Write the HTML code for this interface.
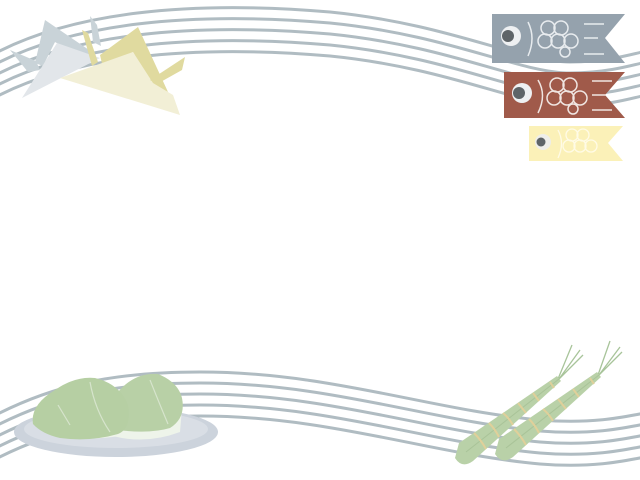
<!DOCTYPE html>
<html><head><meta charset="utf-8"><style>html,body{margin:0;padding:0;background:#fff}svg{display:block}</style></head>
<body>
<svg width="640" height="480" viewBox="0 0 640 480" xmlns="http://www.w3.org/2000/svg">
<defs>
<path id="tw" d="M-10,56 C70,12 190,0 330,12 C450,24 520,62 570,62 C605,62 630,55 650,50" fill="none" stroke="#b0bcc2" stroke-width="3"/>
<path id="bw" d="M-10,418 C50,386 110,372 200,372 C330,372 430,410 540,420 C590,424 620,418 650,412" fill="none" stroke="#b0bcc2" stroke-width="3"/>
<g id="chim">
<path d="M459,443 L557,376 L561,381 L473,461 Q462,469 455,458 Z" fill="#b9d1a8"/>
<path d="M466,452 L559,379" stroke="#a9c398" stroke-width="1" fill="none"/>
<g stroke="#e0d09a" stroke-width="2" fill="none"><path d="M474,433 Q481,440 486,449M489,423 Q495,429 499,437M503,413 Q509,418 513,425M518,403 Q522,408 526,413M533,393 Q536,397 539,401M550,382 L554,388"/></g>
</g>
</defs>
<use href="#tw"/><use href="#tw" y="11"/><use href="#tw" y="22"/><use href="#tw" y="33"/><use href="#tw" y="44"/>
<use href="#bw"/><use href="#bw" y="11"/><use href="#bw" y="22"/><use href="#bw" y="33"/><use href="#bw" y="44"/>

<!-- kabuto -->
<polygon points="10,50 36,61 40,70 28,72" fill="#c9d3d8"/>
<polygon points="90,16 97,25 101,46 93,42" fill="#c9d3d8"/>
<polygon points="35,63 45,20 92,52 83,58 55,42 43,66" fill="#c9d3d8"/>
<polygon points="22,98 57,43 100,58" fill="#e2e6ea"/>
<polygon points="82,30 88,33 98,62 92,66" fill="#e0da9f"/>
<polygon points="100,55 138,27 168,92 152,85 133,52 103,68" fill="#e0da9f"/>
<polygon points="60,78 133,52 153,83 173,95 180,115" fill="#f2efd6"/>
<polygon points="150,80 185,57 182,70 157,84" fill="#e0da9f"/>

<!-- koinobori -->
<g>
<polygon points="492,14 625,14 605,38 625,63 492,63" fill="#95a2ad"/>
<circle cx="511" cy="36" r="10" fill="#eef0f2"/><circle cx="508" cy="36" r="6" fill="#5e6468"/>
<g fill="none" stroke="#e8ecef" stroke-width="1.5"><path d="M528,22 Q536,38 528,56"/><circle cx="548" cy="28" r="7"/><circle cx="561" cy="28" r="7"/><circle cx="545" cy="41" r="7"/><circle cx="558" cy="41" r="7"/><circle cx="571" cy="41" r="7"/><circle cx="565" cy="52" r="5"/><path d="M584,24h20M584,38h14M584,54h20"/></g>
</g>
<g>
<polygon points="504,72 625,72 605,95 625,118 504,118" fill="#a05a4a"/>
<circle cx="522" cy="93" r="10" fill="#eef0f2"/><circle cx="519" cy="93" r="6" fill="#5e6468"/>
<g fill="none" stroke="#f0e6e2" stroke-width="1.5"><path d="M538,80 Q547,95 538,113"/><circle cx="557" cy="85" r="7"/><circle cx="570" cy="85" r="7"/><circle cx="554" cy="98" r="7"/><circle cx="567" cy="98" r="7"/><circle cx="580" cy="98" r="7"/><circle cx="573" cy="109" r="5"/><path d="M592,81h20M592,95h14M592,110h20"/></g>
</g>
<g>
<polygon points="529,126 623,126 608,143 623,161 529,161" fill="#fbf1b8"/>
<circle cx="543" cy="142" r="8" fill="#eeeeea"/><circle cx="541" cy="142" r="4.5" fill="#5e6468"/>
<g fill="none" stroke="#fffbe6" stroke-width="1.3"><path d="M558,130 Q565,143 558,158"/><circle cx="572" cy="135" r="6"/><circle cx="583" cy="135" r="6"/><circle cx="569" cy="146" r="6"/><circle cx="580" cy="146" r="6"/><circle cx="591" cy="146" r="6"/></g>
</g>

<!-- sakuramochi -->
<ellipse cx="116" cy="432" rx="102" ry="25" fill="#ccd3dc"/>
<ellipse cx="116" cy="429" rx="92" ry="19" fill="#d9dee5"/>
<path d="M100,432 Q140,447 180,432 L182,408 Q170,395 150,398 Z" fill="#eef4ea"/>
<path d="M35,422 Q60,445 120,436 L125,405 Q80,395 40,410 Z" fill="#eef4ea"/>
<path d="M118,392 Q135,372 158,374 Q178,382 182,398 Q186,418 170,428 Q150,434 118,430 Q105,420 110,400 Z" fill="#b8d0a6"/>
<path d="M33,424 Q30,405 55,390 Q75,376 95,378 Q120,384 128,405 Q132,428 118,434 Q90,442 60,438 Q42,434 33,424 Z" fill="#b6cfa3"/>
<g fill="none" stroke="#d6e4cc" stroke-width="1.2"><path d="M90,382 Q95,410 110,432"/><path d="M58,405 L70,425"/><path d="M150,380 Q160,405 168,424"/></g>

<!-- chimaki -->
<g stroke="#a8c49a" stroke-width="1.3" fill="none"><path d="M558,379 L572,345 M559,379 L580,350 M559,379 L583,355"/><path d="M598,375 L610,341 M599,375 L620,347 M599,375 L622,352"/></g>
<use href="#chim"/>
<use href="#chim" x="40" y="-4"/>
</svg>
</body></html>
